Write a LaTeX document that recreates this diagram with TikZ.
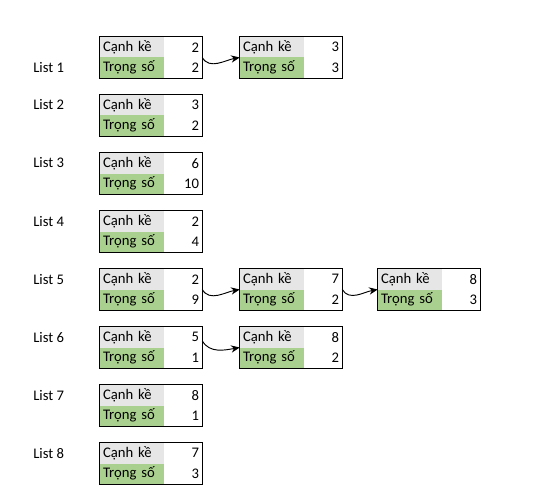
\documentclass[tikz,border=0pt]{standalone}
\usepackage{fontspec}
\setmainfont{Carlito}
\usetikzlibrary{arrows.meta,positioning}
\definecolor{adjcol}{RGB}{231,230,230}
\definecolor{wcol}{RGB}{169,208,142}
% one adjacency record: name, left x, top y, neighbour, weight
\newcommand{\adjrec}[5]{%
  \node[recbox] (#1) at (#2+51,#3+20.5) {};
  \node[rowcell,fill=adjcol,anchor=north west] (#1a) at (#1.north west) {Cạnh kề};
  \node[rowcell,fill=wcol,anchor=south west] (#1w) at (#1.south west) {Trọng số};
  \node[numcell] at (#1a -| #1.east) {#4};
  \node[numcell] at (#1w -| #1.east) {#5};
  \draw[frame] (#1.north west) rectangle (#1.south east);
}

\begin{document}
\begin{tikzpicture}[
  x=0.75pt, y=-0.75pt, >={Stealth[length=6.5pt,width=5.5pt]},
  font=\fontsize{11}{13}\selectfont,
  recbox/.style={minimum width=76.5pt,minimum height=30.75pt,inner sep=0pt},
  rowcell/.style={text width=43.5pt,align=left,minimum height=15.375pt,inner sep=2.25pt},
  numcell/.style={anchor=east,inner sep=2.25pt},
  frame/.style={line width=0.9pt},
  link/.style={->,line width=0.7pt},
]
\useasboundingbox (0,0) rectangle (555,502);

% --- head records, one per list ---
\foreach \k/\a/\w [evaluate=\k as \t using 37+58*(\k-1)] in
    {1/2/2,2/3/2,3/6/10,4/2/4,5/2/9,6/5/1,7/8/1,8/7/3}
  {\adjrec{r\k}{100}{\t}{\a}{\w}}

% --- list names ---
\foreach \k/\y in {1/68,2/105,3/163,4/222,5/280,6/338,7/396,8/454}
  \node[anchor=west,inner sep=0pt] (list\k) at (33,\y) {List \k};

% --- further records ---
\adjrec{r1b}{240}{37}{3}{3}
\adjrec{r5b}{240}{269}{7}{2}
\adjrec{r5c}{378}{269}{8}{3}
\adjrec{r6b}{240}{327}{8}{2}

% --- next pointers ---
\draw[link] (r1.east) to[out=-60,in=190] (r1b.west);
\draw[link] (r5.east) to[out=-60,in=190] (r5b.west);
\draw[link] (r5b.east) to[out=-60,in=190] (r5c.west);
\draw[link] ([yshift=5pt]r6.east) to[out=-60,in=190] (r6b.west);
\end{tikzpicture}
\end{document}
